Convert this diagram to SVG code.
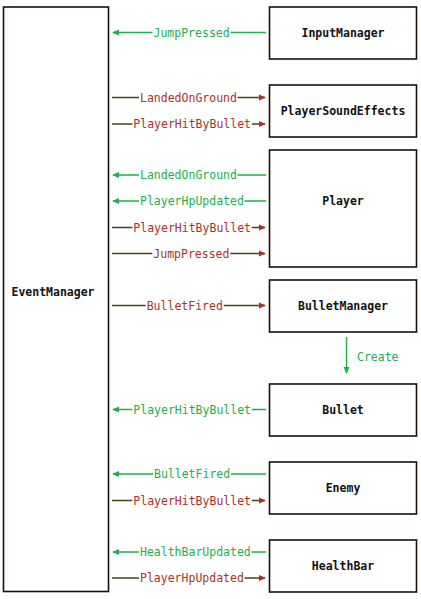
<svg xmlns="http://www.w3.org/2000/svg" width="421" height="599" viewBox="0 0 421 599">
<defs>
<style>
.node{fill:#fff;stroke:#1a0f0a;stroke-width:1.6}
.nt{font-family:"DejaVu Sans Mono","Liberation Mono",monospace;font-size:11.5px;font-weight:bold;fill:#111;text-anchor:middle;dominant-baseline:central}
.lt{font-family:"DejaVu Sans Mono","Liberation Mono",monospace;font-size:11.5px;dominant-baseline:central}
.g{fill:#22ae4c}
.r{fill:#a8322a}
.gl{stroke:#22ae4c;stroke-width:1.4;fill:none}
.rl{stroke:#4a4218;stroke-width:1.4;fill:none}
.bg{fill:#fff}
</style>
<marker id="ag" viewBox="0 0 8 8" refX="7" refY="4" markerWidth="7" markerHeight="7" markerUnits="userSpaceOnUse" orient="auto"><path d="M0,0.5 L8,4 L0,7.5 Z" fill="#22ae4c"/></marker>
<marker id="ar" viewBox="0 0 8 8" refX="7" refY="4" markerWidth="7" markerHeight="7" markerUnits="userSpaceOnUse" orient="auto"><path d="M0,0.5 L8,4 L0,7.5 Z" fill="#a8322a"/></marker>
</defs>

<g id="EventManager"><rect class="node" x="3.5" y="7" width="105" height="584.5"/><text class="nt" x="53" y="292">EventManager</text></g>
<g id="InputManager"><rect class="node" x="269.5" y="7" width="147" height="52"/><text class="nt" x="343" y="33">InputManager</text></g>
<g id="PlayerSoundEffects"><rect class="node" x="269.5" y="85" width="147" height="52"/><text class="nt" x="343" y="111">PlayerSoundEffects</text></g>
<g id="Player"><rect class="node" x="269.5" y="150" width="147" height="117"/><text class="nt" x="343" y="201">Player</text></g>
<g id="BulletManager"><rect class="node" x="269.5" y="280" width="147" height="52"/><text class="nt" x="343" y="306">BulletManager</text></g>
<g id="Bullet"><rect class="node" x="269.5" y="384" width="147" height="52"/><text class="nt" x="343" y="409.5">Bullet</text></g>
<g id="Enemy"><rect class="node" x="269.5" y="462" width="147" height="52"/><text class="nt" x="343" y="487.5">Enemy</text></g>
<g id="HealthBar"><rect class="node" x="269.5" y="540" width="147" height="52"/><text class="nt" x="343" y="565.5">HealthBar</text></g>

<g id="connectors">
<line class="gl" x1="266" y1="32.5" x2="113" y2="32.5" marker-end="url(#ag)"/>
<rect class="bg" x="152.5" y="26" width="78" height="13"/><text class="lt g" x="153.5" y="32.5">JumpPressed</text>

<line class="rl" x1="112" y1="97.5" x2="265" y2="97.5" marker-end="url(#ar)"/>
<rect class="bg" x="139" y="91" width="98.5" height="13"/><text class="lt r" x="140" y="97.5">LandedOnGround</text>

<line class="rl" x1="112" y1="124" x2="265" y2="124" marker-end="url(#ar)"/>
<rect class="bg" x="132.3" y="117.5" width="119.5" height="13"/><text class="lt r" x="133.3" y="124">PlayerHitByBullet</text>

<line class="gl" x1="266" y1="175" x2="113" y2="175" marker-end="url(#ag)"/>
<rect class="bg" x="139" y="168.5" width="98.5" height="13"/><text class="lt g" x="140" y="175">LandedOnGround</text>

<line class="gl" x1="266" y1="201" x2="113" y2="201" marker-end="url(#ag)"/>
<rect class="bg" x="139" y="194.5" width="105.5" height="13"/><text class="lt g" x="140" y="201">PlayerHpUpdated</text>

<line class="rl" x1="112" y1="227.5" x2="265" y2="227.5" marker-end="url(#ar)"/>
<rect class="bg" x="132.3" y="221" width="119.5" height="13"/><text class="lt r" x="133.3" y="227.5">PlayerHitByBullet</text>

<line class="rl" x1="112" y1="253.5" x2="265" y2="253.5" marker-end="url(#ar)"/>
<rect class="bg" x="152.3" y="247" width="78" height="13"/><text class="lt r" x="153.3" y="253.5">JumpPressed</text>

<line class="rl" x1="112" y1="305.5" x2="265" y2="305.5" marker-end="url(#ar)"/>
<rect class="bg" x="145.7" y="299" width="78" height="13"/><text class="lt r" x="146.7" y="305.5">BulletFired</text>

<line class="gl" x1="346.5" y1="337" x2="346.5" y2="373" marker-end="url(#ag)"/>
<text class="lt g" x="357" y="357">Create</text>

<line class="gl" x1="266" y1="409.5" x2="113" y2="409.5" marker-end="url(#ag)"/>
<rect class="bg" x="132.3" y="403" width="119.5" height="13"/><text class="lt g" x="133.3" y="409.5">PlayerHitByBullet</text>

<line class="gl" x1="266" y1="474" x2="113" y2="474" marker-end="url(#ag)"/>
<rect class="bg" x="153" y="467.5" width="78" height="13"/><text class="lt g" x="154" y="474">BulletFired</text>

<line class="rl" x1="112" y1="500.5" x2="265" y2="500.5" marker-end="url(#ar)"/>
<rect class="bg" x="132.3" y="494" width="119.5" height="13"/><text class="lt r" x="133.3" y="500.5">PlayerHitByBullet</text>

<line class="gl" x1="266" y1="552" x2="113" y2="552" marker-end="url(#ag)"/>
<rect class="bg" x="139" y="545.5" width="112.5" height="13"/><text class="lt g" x="140" y="552">HealthBarUpdated</text>

<line class="rl" x1="112" y1="578" x2="265" y2="578" marker-end="url(#ar)"/>
<rect class="bg" x="139" y="571.5" width="105.5" height="13"/><text class="lt r" x="140" y="578">PlayerHpUpdated</text>
</g>
</svg>
